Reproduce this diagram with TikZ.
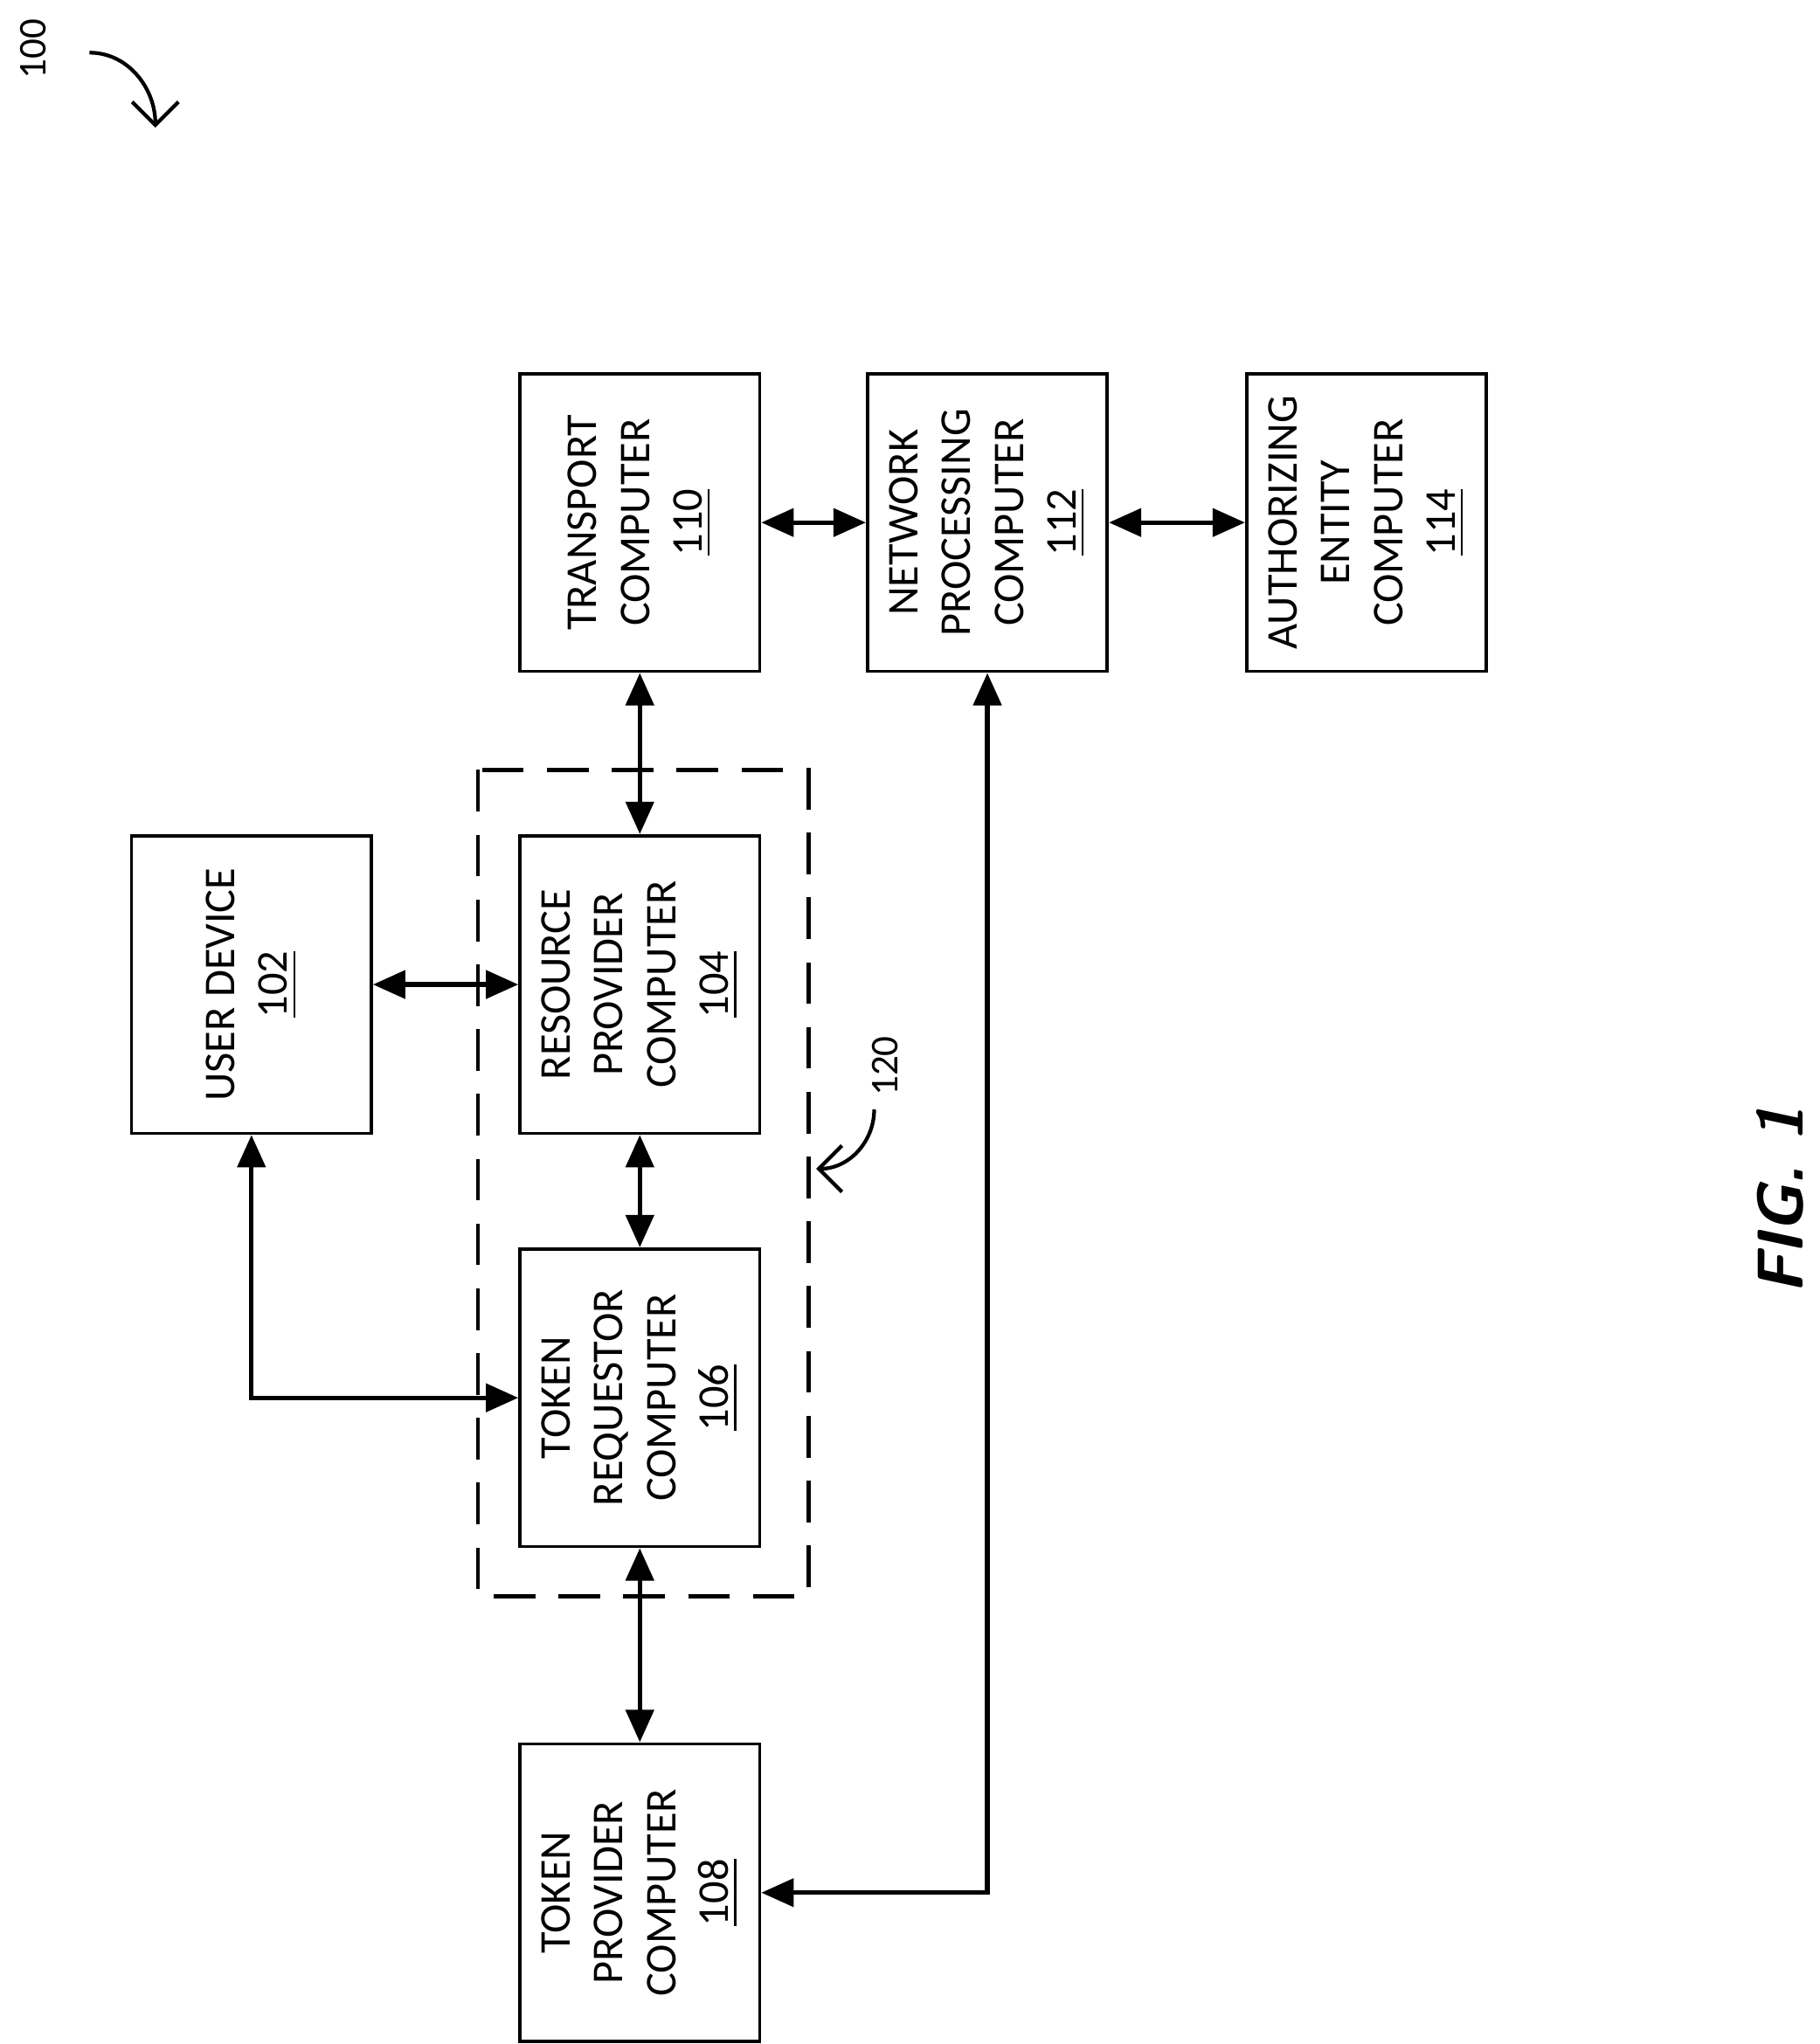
\documentclass[tikz,border=0pt]{standalone}
\usepackage{fontspec}
\setmainfont{Carlito}
\usetikzlibrary{arrows.meta, positioning}

\tikzset{
  box/.style={draw, line width=0.7pt, rotate=90, align=center, minimum width=2.26cm, minimum height=1.82cm, inner sep=0pt, font=\fontsize{9.5}{11.4}\selectfont},
  link/.style={line width=1pt, {Triangle[length=7pt,width=6pt]}-{Triangle[length=7pt,width=6pt]}},
  tag/.style={rotate=90, font=\fontsize{8.5}{10}\selectfont}
}

\begin{document}
\begin{tikzpicture}[x=0.01cm, y=-0.01cm]
		\useasboundingbox (0,0) rectangle (1382,1553);
		% Boxes
		\node[box] (tc) at (486,397) {TRANSPORT\\COMPUTER\\\underline{110}};
		\node[box] (np) at (750,397) {NETWORK\\PROCESSING\\COMPUTER\\\underline{112}};
		\node[box] (ae) at (1038,397) {AUTHORIZING\\ENTITY\\COMPUTER\\\underline{114}};
		\node[box] (ud) at (191,748) {USER DEVICE\\\underline{102}};
		\node[box] (rp) at (486,748) {RESOURCE\\PROVIDER\\COMPUTER\\\underline{104}};
		\node[box] (tr) at (486,1062) {TOKEN\\REQUESTOR\\COMPUTER\\\underline{106}};
		\node[box] (tp) at (486,1438) {TOKEN\\PROVIDER\\COMPUTER\\\underline{108}};
		
		% Group 120
		\draw[dashed, line width=0.9pt, dash pattern=on 9pt off 5pt] (363,585) rectangle (614,1213);
		
		% Connectors
		\draw[link] (tc) -- (np);
		\draw[link] (np) -- (ae);
		\draw[link] (tc) -- (rp);
		\draw[link] (ud) -- (rp);
		\draw[link] (rp) -- (tr);
		\draw[link] (ud) |- (tr);
		\draw[link] (tr) -- (tp);
		\draw[link] (tp) -| (np);
		
		% Reference labels
		\node[tag] (l100) at (25,37) {100};
		\draw[line width=0.8pt, -{Straight Barb[length=5pt]}] (68,40) to[out=0, in=90] (118,97);
		\node[tag] (l120) at (672,810) {120};
		\draw[line width=0.8pt, -{Straight Barb[length=5pt]}] (664,843) to[out=-90, in=0] (620,888);
		
		\node[rotate=90, font=\sffamily\bfseries\itshape\fontsize{14}{17}\selectfont] (fig) at (1352,912) {FIG. 1};
	\end{tikzpicture}
\end{document}
